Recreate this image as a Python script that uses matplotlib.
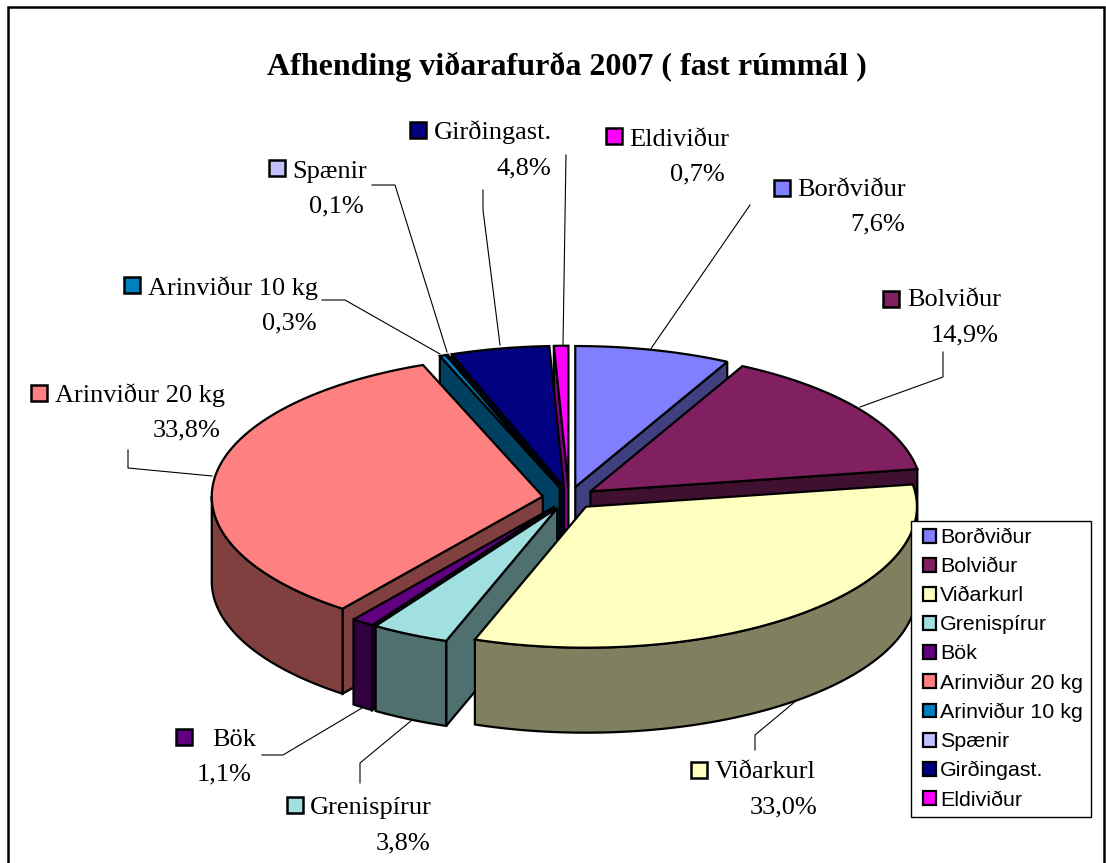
import matplotlib
matplotlib.use('Agg')
import matplotlib.pyplot as plt
import numpy as np
from matplotlib.legend_handler import HandlerPatch
from matplotlib.patches import Polygon, Rectangle

names = ['Borðviður', 'Bolviður', 'Viðarkurl', 'Grenispírur', 'Bök',
         'Arinviður 20 kg', 'Arinviður 10 kg', 'Spænir', 'Girðingast.', 'Eldiviður']
values = [7.6, 14.9, 33.0, 3.8, 1.1, 33.8, 0.3, 0.1, 4.8, 0.7]
pct_labels = ['7,6%', '14,9%', '33,0%', '3,8%', '1,1%', '33,8%', '0,3%', '0,1%', '4,8%', '0,7%']
title = 'Afhending viðarafurða 2007 ( fast rúmmál )'

colors = ['#8080FF', '#802060', '#FFFFC0', '#A0E0E0', '#600080',
          '#FF8080', '#0080C0', '#C0C0FF', '#000080', '#FF00FF']
side_colors = ['#404080', '#401030', '#808060', '#507070', '#300040',
               '#804040', '#004060', '#606080', '#000040', '#800080']

# pie geometry, in image pixels
cx, cy = 569, 498
rx, ry = 331, 141
depth = 85
explode = 0.08
# back slices first so the front ones paint over them
draw_order = [9, 8, 7, 6, 0, 1, 5, 4, 3, 2]

# label positions: marker left/top, name x, name baseline, value right, value baseline
marker_pos = [(774, 180), (883, 291), (691, 762), (287, 797), (176, 729),
              (31, 385), (124, 277), (269, 160), (410, 122), (606, 128)]
name_pos = [(797, 196), (907, 306), (715, 778), (310, 814), (212, 746),
            (55, 402), (148, 295), (292, 178), (434, 139), (629, 146)]
value_pos = [(905, 230), (999, 341), (817, 813), (430, 849), (252, 780),
             (221, 436), (317, 329), (364, 212), (551, 174), (725, 180)]
leaders = [
    [(750, 205), (650, 350)],
    [(943, 352), (943, 377), (860, 407)],
    [(755, 750), (755, 735), (797, 700)],
    [(360, 783), (360, 763), (412, 720)],
    [(262, 755), (283, 755), (362, 708)],
    [(128, 450), (128, 468), (212, 476)],
    [(322, 300), (345, 300), (440, 354)],
    [(372, 185), (395, 185), (447, 352)],
    [(483, 190), (483, 210), (500, 345)],
    [(566, 155), (563, 345)],
]

fig = plt.figure(figsize=(11.06, 8.63), dpi=100)
ax = fig.add_axes([0, 0, 1, 1])
ax.set_xlim(0, 1106)
ax.set_ylim(863, 0)
ax.axis('off')

# bottom edge of the frame falls off the image
ax.add_patch(Rectangle((8, 7), 1096, 870, fc='white', ec='black', lw=1.8, zorder=0))

serif = 'Liberation Serif'
ax.text(567, 75, title, family=serif, weight='bold', fontsize=23, ha='center', va='baseline')

for line in leaders:
    ax.plot([p[0] for p in line], [p[1] for p in line], color='black', lw=0.8, zorder=1)


def arc(tx, ty, a, b):
    t = np.radians(np.linspace(a, b, max(int(abs(b - a) * 2), 2)))
    return np.column_stack([tx + rx * np.sin(t), ty - ry * np.cos(t)])


def piece(pts, fc, z):
    p = Polygon(pts, closed=True, fc=fc, ec='black', lw=1.6, joinstyle='miter', zorder=z)
    ax.add_patch(p)
    return p


edges = np.cumsum([0] + values) / sum(values) * 360
mids = (edges[:-1] + edges[1:]) / 2

tops = {}
for rank, i in enumerate(draw_order):
    a, b, m = edges[i], edges[i + 1], np.radians(mids[i])
    tx = cx + explode * rx * np.sin(m)
    ty = cy - explode * ry * np.cos(m)
    z = 2 + rank
    drop = np.array([0, depth])
    tip = np.array([tx, ty])

    # radial walls that look towards the viewer
    if np.sin(np.radians(a)) < 0:
        o = arc(tx, ty, a, a)[0]
        piece([tip, o, o + drop, tip + drop], side_colors[i], z)
    if np.sin(np.radians(b)) > 0:
        o = arc(tx, ty, b, b)[0]
        piece([tip, o, o + drop, tip + drop], side_colors[i], z)

    # outer rim, only the front half of the ellipse shows
    lo, hi = max(a, 90), min(b, 270)
    if lo < hi:
        rim = arc(tx, ty, lo, hi)
        piece(np.vstack([rim, (rim + drop)[::-1]]), side_colors[i], z)

    tops[i] = piece(np.vstack([tip, arc(tx, ty, a, b)]), colors[i], z)

for i, name in enumerate(names):
    mx, my = marker_pos[i]
    ax.add_patch(Rectangle((mx, my), 16, 16, fc=colors[i], ec='black', lw=1.8, zorder=20))
    ax.text(name_pos[i][0], name_pos[i][1], name, family=serif, fontsize=19, va='baseline', ha='left', zorder=20)
    ax.text(value_pos[i][0], value_pos[i][1], pct_labels[i], family=serif, fontsize=19, va='baseline', ha='right', zorder=20)

handles = [tops[i] for i in range(len(names))]
leg = ax.legend(handles, names,
                loc='lower left', bbox_to_anchor=(911, 817), bbox_transform=ax.transData,
                borderaxespad=0, fancybox=False, framealpha=1, edgecolor='black',
                prop={'family': 'Liberation Sans', 'size': 15.4},
                handlelength=0.82, handleheight=0.62, handletextpad=0.2,
                labelspacing=0.47, borderpad=0.35,
                handler_map={Polygon: HandlerPatch(xpad=0.2)})
leg.get_frame().set_linewidth(1.0)
leg.set_zorder(30)

fig.savefig('out.png', dpi=100)
